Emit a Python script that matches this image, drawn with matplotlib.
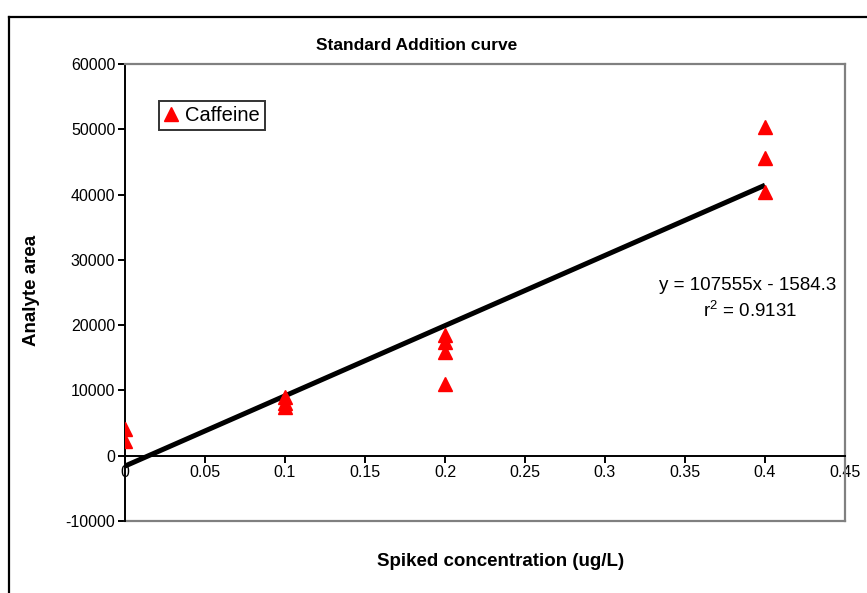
import numpy as np
import matplotlib.pyplot as plt
from matplotlib.lines import Line2D

plt.rcParams['font.family'] = ['Liberation Sans', 'DejaVu Sans']
plt.rcParams['mathtext.default'] = 'regular'

# spiked concentration (ug/L) and measured caffeine peak area
conc = [0, 0, 0.1, 0.1, 0.1, 0.2, 0.2, 0.2, 0.2, 0.4, 0.4, 0.4]
area = [4100, 2300, 9000, 8000, 7400, 18500, 17400, 15900, 11000, 50300, 45600, 40400]

# linear fit as reported
slope = 107555
intercept = -1584.3
r2 = 0.9131
fit_x = [0, 0.4]

x_ticks = [0, 0.05, 0.1, 0.15, 0.2, 0.25, 0.3, 0.35, 0.4, 0.45]
x_labels = ['0', '0.05', '0.1', '0.15', '0.2', '0.25', '0.3', '0.35', '0.4', '0.45']
y_ticks = [-10000, 0, 10000, 20000, 30000, 40000, 50000, 60000]

fig = plt.figure(figsize=(8.67, 5.93), dpi=100)
ax = fig.add_axes([125/867, 72/593, 720/867, 457/593])

fx = np.array(fit_x)
ax.plot(fx, slope*fx + intercept, color='black', lw=3.6, solid_capstyle='butt', zorder=2)
ax.plot(conc, area, linestyle='none', marker='^', ms=10, color='red', mec='red',
        label='Caffeine', zorder=3)

ax.set_xlim(0, 0.45)
ax.set_ylim(-10000, 60000)
ax.set_xticks(x_ticks)
ax.set_xticklabels(x_labels)
ax.set_yticks(y_ticks)
ax.set_yticklabels([str(v) for v in y_ticks])

for s in ['top', 'right']:
    ax.spines[s].set_color('#808080')
    ax.spines[s].set_linewidth(1.6)
ax.spines['left'].set_color('black')
ax.spines['left'].set_linewidth(1.4)
ax.spines['bottom'].set_position(('data', 0))
ax.spines['bottom'].set_color('black')
ax.spines['bottom'].set_linewidth(1.4)
# grey bottom edge of the plot area
ax.plot([0, 1], [0, 0], transform=ax.transAxes, color='#808080', lw=1.6, clip_on=False)

ax.tick_params(axis='both', direction='out', length=5, width=1.4, labelsize=11.5, pad=2)

fig.text(417/867, 1 - 46/593, 'Standard Addition curve', fontsize=12.5,
         fontweight='bold', ha='center', va='center')
fig.text(31/867, 1 - 290/593, 'Analyte area', fontsize=13.5, fontweight='bold',
         ha='center', va='center', rotation=90)
fig.text(501/867, 1 - 562/593, 'Spiked concentration (ug/L)', fontsize=13.5,
         fontweight='bold', ha='center', va='center')

leg = ax.legend(loc='upper left', bbox_to_anchor=(0.047, 0.92), fontsize=14.5,
                frameon=True, fancybox=False, handlelength=0.7, handletextpad=0.35,
                borderpad=0.25, borderaxespad=0, markerscale=1.0)
leg.get_frame().set_edgecolor('black')
leg.get_frame().set_linewidth(1.4)

fig.text(748/867, 1 - 285/593, 'y = 107555x - 1584.3', fontsize=13.5,
         ha='center', va='center')
fig.text(750/867, 1 - 311/593, '$r^2$ = %.4f' % r2, fontsize=13.5,
         ha='center', va='center')

# outer chart frame
fig.add_artist(Line2D([9/867, 1], [1 - 17/593, 1 - 17/593], color='black', lw=1.6))
fig.add_artist(Line2D([9/867, 9/867], [0, 1 - 17/593], color='black', lw=1.6))

fig.savefig('out.png', dpi=100)
